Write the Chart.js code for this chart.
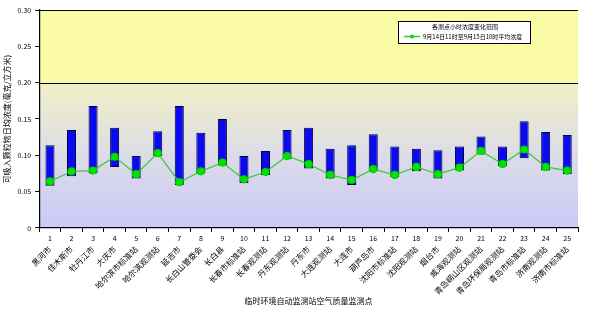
<!DOCTYPE html>
<html>
<head>
<meta charset="utf-8">
<script src="https://cdn.jsdelivr.net/npm/chart.js@4/dist/chart.umd.min.js"></script>
<style>
  html, body { margin: 0; padding: 0; background: #ffffff; }
  #wrap { width: 600px; height: 330px; }
</style>
</head>
<body>
<div id="wrap"><canvas id="c" width="600" height="330"></canvas></div>
<script>
// Station numbers and names along the x axis
const stationNumbers = ['1','2','3','4','5','6','7','8','9','10','11','12','13','14','15','16','17','18','19','20','21','22','23','24','25'];
const stationNames = ['黑河市','佳木斯市','牡丹江市','大庆市','哈尔滨市标准站','哈尔滨观测站','延吉市','长白山管委会','长白县','长春市标准站','长春观测站','丹东观测站','丹东市','大连观测站','大连市','葫芦岛市','沈阳市标准站','沈阳观测站','烟台市','威海观测站','青岛崂山区观测站','青岛环保局观测站','青岛市标准站','济南观测站','济南市标准站'];

// Hourly range (low / high) and the average value, mg/m3
const rangeLow  = [0.058,0.071,0.075,0.084,0.068,0.099,0.059,0.075,0.086,0.062,0.073,0.095,0.082,0.068,0.059,0.078,0.070,0.078,0.068,0.079,0.101,0.085,0.096,0.079,0.074];
const rangeHigh = [0.114,0.135,0.168,0.138,0.099,0.133,0.168,0.131,0.150,0.099,0.106,0.135,0.138,0.109,0.114,0.129,0.112,0.109,0.107,0.112,0.126,0.112,0.147,0.132,0.128];
const avgValue  = [0.064,0.078,0.079,0.098,0.074,0.103,0.063,0.078,0.090,0.067,0.077,0.099,0.088,0.073,0.066,0.081,0.073,0.084,0.074,0.083,0.106,0.088,0.108,0.084,0.079];

// y axis
const yMin = 0, yMax = 0.3, yStep = 0.05, yBand = 0.2;

const rangeLabel = '各测点小时浓度变化范围';
const avgLabel = '9月14日11时至9月15日10时平均浓度';

const FONT = '"Noto Sans CJK SC", "DejaVu Sans", sans-serif';

// Plot background: yellow band above 0.2, soft gradient below, black lines at 0.2 and the top
const backdrop = {
  id: 'backdrop',
  beforeDraw(chart) {
    const { ctx, chartArea: a, scales: { y } } = chart;
    const yTop = y.getPixelForValue(yMax);
    const yB = y.getPixelForValue(yBand);
    const y0 = y.getPixelForValue(yMin);
    ctx.save();
    ctx.fillStyle = '#fbfba6';
    ctx.fillRect(a.left, yTop, a.right - a.left, yB - yTop);
    const g = ctx.createLinearGradient(0, yB, 0, y0);
    g.addColorStop(0, '#f1f0c6');
    g.addColorStop(0.5, '#dcdce8');
    g.addColorStop(1, '#c9c9f7');
    ctx.fillStyle = g;
    ctx.fillRect(a.left, yB, a.right - a.left, y0 - yB);
    ctx.strokeStyle = '#000000';
    ctx.lineWidth = 1.2;
    ctx.beginPath();
    ctx.moveTo(a.left, Math.round(yTop) + 0.5); ctx.lineTo(a.right, Math.round(yTop) + 0.5);
    ctx.moveTo(a.left, Math.round(yB) + 0.5); ctx.lineTo(a.right, Math.round(yB) + 0.5);
    ctx.stroke();
    ctx.restore();
  }
};

// Boxed legend inside the upper band
const boxLegend = {
  id: 'boxLegend',
  afterDraw(chart) {
    const { ctx } = chart;
    const x = 398, yb = 21, w = 132, h = 22;
    ctx.save();
    ctx.fillStyle = '#ffffff';
    ctx.fillRect(x, yb, w, h);
    ctx.strokeStyle = '#000000';
    ctx.lineWidth = 1;
    ctx.strokeRect(x + 0.5, yb + 0.5, w, h);
    ctx.font = '6px ' + FONT;
    ctx.fillStyle = '#000000';
    ctx.textBaseline = 'middle';
    ctx.textAlign = 'left';
    ctx.fillText(chart.data.datasets[0].label, x + 34, yb + 6);
    const ly = yb + 15.5;
    ctx.strokeStyle = '#33cc33';
    ctx.lineWidth = 1.5;
    ctx.beginPath(); ctx.moveTo(x + 6, ly); ctx.lineTo(x + 22, ly); ctx.stroke();
    ctx.fillStyle = '#00dd00';
    ctx.beginPath(); ctx.arc(x + 14, ly, 2, 0, Math.PI * 2); ctx.fill();
    ctx.fillStyle = '#000000';
    ctx.fillText(chart.data.datasets[1].label, x + 25, ly);
    ctx.restore();
  }
};

new Chart(document.getElementById('c'), {
  data: {
    labels: stationNumbers,
    datasets: [
      {
        type: 'bar',
        label: rangeLabel,
        data: rangeLow.map((lo, i) => [lo, rangeHigh[i]]),
        backgroundColor: '#0a0af0',
        borderColor: '#00003a',
        borderWidth: 1,
        borderSkipped: false,
        barPercentage: 0.42,
        categoryPercentage: 1,
        order: 2
      },
      {
        type: 'line',
        label: avgLabel,
        data: avgValue,
        borderColor: '#33cc33',
        borderWidth: 1.2,
        pointBackgroundColor: '#00e600',
        pointBorderColor: '#00d000',
        pointRadius: 3.5,
        tension: 0,
        order: 1
      }
    ]
  },
  options: {
    responsive: false,
    animation: false,
    devicePixelRatio: 1,
    layout: { padding: { top: 10, right: 22, left: 2, bottom: 24 } },
    plugins: { legend: { display: false }, tooltip: { enabled: false } },
    scales: {
      x: {
        type: 'category',
        position: 'bottom',
        weight: 0,
        offset: true,
        border: { color: '#000000', width: 1.2 },
        grid: { display: true, drawOnChartArea: false, offset: true, tickLength: 4, color: '#000000' },
        ticks: { font: { size: 7, family: FONT }, color: '#000000', maxRotation: 0, minRotation: 0, padding: 2, autoSkip: false }
      },
      x2: {
        type: 'category',
        position: 'bottom',
        weight: 1,
        labels: stationNames,
        offset: true,
        border: { display: false },
        grid: { display: false, drawTicks: false },
        ticks: { font: { size: 8, family: FONT }, color: '#000000', maxRotation: 45, minRotation: 45, padding: 0, autoSkip: false },
        title: { display: true, text: '临时环境自动监测站空气质量监测点', font: { size: 8, family: FONT }, color: '#000000', padding: { top: 0, bottom: 0 } }
      },
      y: {
        min: yMin,
        max: yMax,
        border: { color: '#000000', width: 1.2 },
        grid: { display: true, drawOnChartArea: false, tickLength: 4, color: '#000000' },
        ticks: { stepSize: yStep, font: { size: 7, family: FONT }, color: '#000000', padding: 4 },
        title: { display: true, text: '可吸入颗粒物日均浓度(毫克/立方米)', font: { size: 8, family: FONT }, color: '#000000', padding: { top: 0, bottom: 2 } }
      }
    }
  },
  plugins: [backdrop, boxLegend]
});
</script>
</body>
</html>
